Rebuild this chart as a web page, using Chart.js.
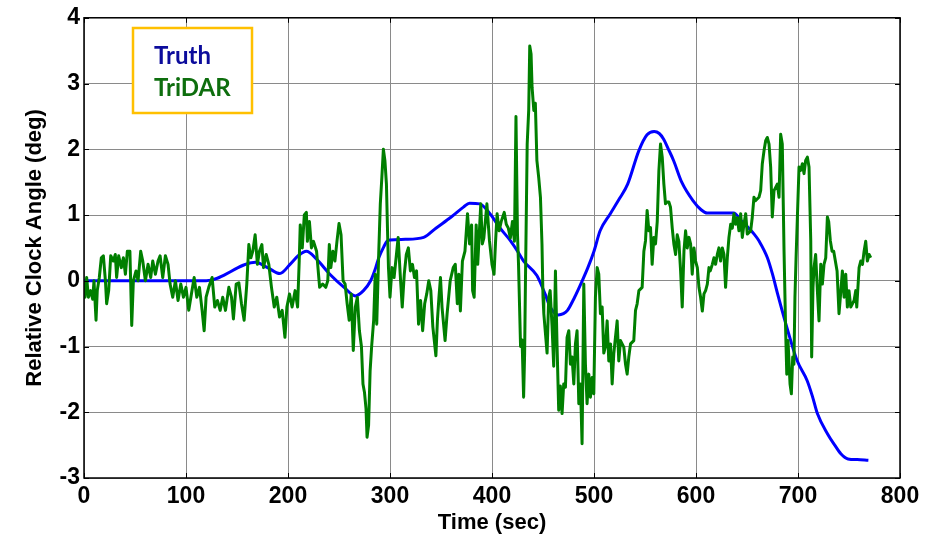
<!DOCTYPE html>
<html>
<head>
<meta charset="utf-8">
<title>Relative Clock Angle</title>
<script src="https://cdn.jsdelivr.net/npm/chart.js@4.4.1/dist/chart.umd.min.js"></script>
<style>
  html, body { margin: 0; padding: 0; background: #fff; }
  canvas { display: block; }
</style>
</head>
<body>
<canvas id="clockChart" width="928" height="539"></canvas>
<script>
// truth clock angle (deg) vs time (sec)
var truthTime = [0, 120, 168, 180, 192, 202, 210, 218, 228, 241, 255, 266, 274, 281, 286, 289, 294, 297, 300, 315,
  333, 345, 360, 372, 378, 388, 398, 408, 418, 425, 431, 444, 452, 457, 465, 470, 474, 481, 487, 494,
  500, 506, 516, 525, 533, 544, 552, 559, 564, 568, 573, 578, 586, 597, 605, 611, 637, 644, 657, 662,
  670, 675, 680, 690, 699, 709, 714, 719, 729, 736, 742, 749, 758, 769];
var truthAngle = [0, 0, 0.28, 0.2, 0.11, 0.25, 0.38, 0.45, 0.33, 0.1, -0.1, -0.23, -0.15, 0, 0.2, 0.35, 0.52, 0.6, 0.62, 0.63,
  0.66, 0.8, 0.97, 1.12, 1.18, 1.17, 1.02, 0.8, 0.61, 0.45, 0.3, 0.08, -0.2, -0.4, -0.52, -0.5, -0.45, -0.25, -0.05, 0.2,
  0.45, 0.76, 1.02, 1.25, 1.47, 1.98, 2.22, 2.27, 2.24, 2.16, 2.0, 1.83, 1.5, 1.22, 1.08, 1.03, 1.03, 0.92, 0.71, 0.6,
  0.35, 0.1, -0.2, -0.76, -1.21, -1.52, -1.75, -2.02, -2.33, -2.5, -2.63, -2.71, -2.72, -2.73];

// TriDAR measured clock angle
var tridarTime = [0, 1, 2.6, 4.3, 6.5, 8.5, 9.8, 11.8, 13, 15, 17, 19, 21, 22.2, 24.2, 26.2, 28.8, 30.7, 32, 34,
  36.6, 38.6, 40.6, 42.5, 45, 46.8, 48.4, 51, 53, 55.6, 57.6, 60.2, 62.8, 65.4, 67.4, 70, 72.6, 74.6, 77.2, 79.8,
  82.4, 84.4, 87, 89.6, 92.2, 94.9, 97.5, 100, 102.7, 105.3, 108, 110.6, 113.2, 115.8, 117.8, 119.7, 122.3, 125.6, 128.2, 130.8,
  133.5, 136, 138.7, 142, 144.6, 146.5, 149.2, 151.8, 154.4, 157, 159.6, 161.6, 163.6, 165.5, 167.8, 170, 172, 174.4, 176, 178.6,
  181.2, 183.8, 186.5, 189, 191.7, 194.3, 197, 198.9, 201.5, 204, 207, 209.4, 211, 212, 214, 216, 218, 219, 221, 223,
  225, 228, 231, 234, 237, 239, 240.5, 242, 244, 246, 248, 250, 252, 254, 256, 258, 260, 262, 264, 266,
  268, 270, 272, 273.5, 275, 276.5, 277.5, 279, 280.5, 282, 284, 285.5, 287, 289, 290.5, 292, 293.5, 295, 296.5, 297.5,
  298.5, 300, 302, 304, 306, 308, 310, 312, 314, 316, 318, 320, 322, 324, 326, 328, 330, 332, 334, 336,
  338, 340, 342, 345, 346.5, 348, 349.5, 351, 354, 356, 359, 362, 364, 366, 367.5, 369, 371, 373.5, 376, 378,
  380, 381, 382.5, 384.5, 386, 389, 390.5, 392, 395, 397.5, 400, 402, 403.5, 405, 407, 409, 412, 414, 416, 418,
  420, 422, 423.5, 425, 426, 428, 429.5, 431, 432, 432.8, 434.5, 436, 437, 438.3, 439.3, 441, 442.5, 444, 445.8, 447.5,
  449, 450, 450.8, 454, 455.6, 457, 458.9, 460.5, 462.2, 463.8, 465.4, 467, 468.7, 470.3, 472, 473.6, 475.3, 476.9, 478.5, 480.2,
  481.8, 483.4, 485.1, 486.7, 488.3, 490, 491.6, 493.2, 494.9, 496.5, 498.2, 499.8, 501.4, 503.1, 504.7, 506.3, 508, 509.6, 511.2, 512.9,
  514.5, 516.2, 517.8, 519.4, 522.7, 524.3, 526, 529.2, 530.9, 532.5, 534.1, 535.8, 539, 540.7, 542.3, 544, 547.2, 548.9, 550.5, 552.1,
  553.8, 555.4, 557, 558.7, 560.3, 562, 563.6, 565.2, 566.9, 568.5, 570.1, 571.8, 573.4, 575, 576.7, 578.3, 580, 581.6, 583.2, 584.9,
  586.5, 588.2, 589.8, 591.4, 593.1, 594.7, 596.3, 598, 599.6, 601.3, 602.9, 604.5, 606.2, 607.8, 609.4, 611.1, 612.7, 614, 616, 617.6,
  619.2, 620.9, 622.5, 624.1, 625.8, 627.4, 629, 630.7, 632.3, 634, 635.6, 637.2, 638.9, 640.5, 642.1, 643.8, 645.4, 647, 648.7, 650.3,
  653.6, 655.2, 656.8, 658.5, 661.7, 663.4, 665, 666.7, 668.3, 669.9, 671.6, 673.2, 674.8, 676.5, 679.7, 681.4, 683, 684.6, 686.3, 687.9,
  689, 690.2, 692.2, 693.5, 694.8, 696, 697, 698.1, 699.4, 701, 702.6, 704.3, 705.9, 707.5, 709.2, 710.8, 712.5, 713.4, 714.7, 715.7,
  717.3, 719, 720.6, 722.3, 723.9, 725.5, 727.2, 728.8, 730.1, 731.7, 733.4, 735, 738.3, 740.2, 741.8, 743.5, 745.2, 746.8, 748.4, 750,
  751.7, 755, 756.6, 757.6, 759.9, 761.5, 763.2, 764.8, 766.4, 768, 769.7, 771.3];
var tridarAngle = [0, -0.25, 0.05, -0.25, -0.15, -0.28, 0, -0.6, -0.15, 0.05, 0.35, 0.38, 0, -0.35, -0.15, 0.38, 0.3, 0.4, 0.05, 0.38,
  0.2, 0.35, 0.1, 0.45, 0.45, -0.68, 0, 0.15, 0, 0.45, 0.3, 0, 0.25, 0.05, 0.3, 0.1, 0.3, 0.38, 0.05, 0.38,
  0.25, -0.05, -0.25, 0, -0.3, -0.05, -0.25, -0.1, -0.45, -0.2, 0.05, -0.25, -0.1, -0.45, -0.76, -0.25, -0.1, 0.05, -0.4, -0.3,
  -0.45, -0.25, -0.45, -0.1, -0.25, -0.58, -0.05, -0.03, -0.35, -0.6, -0.05, 0.55, 0.35, 0.45, 0.7, 0.25, 0.45, 0.55, 0.2, 0.4,
  0.25, -0.1, -0.4, -0.25, -0.55, -0.45, -0.86, -0.4, -0.2, -0.4, -0.15, -0.4, 0.3, 0.85, 0.5, 1.0, 1.04, 0.6, 0.9, 0.5,
  0.6, 0.45, -0.1, -0.05, -0.1, 0, 0.55, 0.2, 0.45, 0.3, 0.6, 0.87, 0.7, 0, -0.05, -0.35, -0.6, -0.2, -1.06, -0.4,
  -0.25, -0.76, -1.0, -1.57, -1.7, -1.95, -2.38, -2.2, -1.37, -1.0, -0.6, 0.1, -0.66, 0.45, 1.17, 1.57, 2.0, 1.83, 1.47, 0.81,
  0.2, -0.25, 0.2, 0.05, 0.35, 0.66, 0.1, -0.4, 0.1, 0.4, 0.5, 0.15, 0.25, 0.05, 0.15, -0.66, -0.3, -0.76, -0.35, -0.2,
  0, -0.15, -0.7, -1.14, -0.6, -0.25, 0.05, -0.4, -0.91, -0.5, 0, 0.2, 0.25, -0.35, 0.1, -0.46, 0.3, 0.45, 1.02, 0.56,
  0.85, -0.15, -0.25, 0.85, 0.25, 1.17, 0.56, 0.65, 1.17, 0.61, 0.25, 0.1, 0.6, 1.02, 0.76, 0.9, 1.04, 0.86, 0.8, 0.65,
  0.9, 0.6, 2.5, 0.7, 0.25, -1.0, -0.9, -1.77, -1.1, 0, 2.08, 2.6, 3.57, 3.45, 2.94, 2.59, 2.7, 1.83, 1.57, 1.27,
  0.56, -0.25, -0.5, -1.1, -0.25, -0.15, -0.7, -1.3, 0.15, -1.0, -1.97, -1.6, -2.02, -1.57, -1.62, -0.86, -0.76, -1.27, -1.16, -1.57,
  -0.96, -0.76, -1.87, -1.57, -2.48, -0.05, -1.27, -1.87, -1.42, -1.77, -1.47, -1.72, -0.25, 0.2, 0.1, -0.5, -0.4, -1.1, -1.0, -0.61,
  -1.22, -0.96, -1.57, -1.11, -0.61, -1.22, -0.91, -1.01, -1.27, -1.42, -1.16, -0.96, -0.91, -0.45, -0.35, -0.15, -0.1, 0.45, 0.61, 1.07,
  0.76, 0.81, 0.25, 0.66, 0.56, 0.9, 1.67, 2.08, 1.88, 1.47, 1.17, 1.2, 1.2, 1.12, 0.8, 0.56, 0.4, 0.7, 0.6, 0.15,
  -0.4, 0.45, 0.76, 0.5, 0.66, 0.56, 0.1, 0.5, 0.3, 0.2, -0.1, -0.25, -0.46, -0.2, -0.15, -0.05, 0.2, 0.15, 0.25, 0.35,
  0.25, 0.4, 0.5, 0.3, 0.5, 0.4, -0.1, 0.35, 0.66, 0.86, 0.8, 1.02, 0.86, 0.96, 0.76, 1.02, 0.66, 0.86, 1.02, 0.71,
  0.76, 0.97, 1.27, 1.22, 1.27, 1.37, 1.78, 1.98, 2.13, 2.18, 2.08, 1.73, 0.97, 1.37, 1.47, 1.27, 2.23, 2.08, 0.46, -0.76,
  -1.42, -0.91, -1.57, -1.72, -1.16, -1.27, -0.25, 0.35, 0.97, 1.73, 1.68, 1.78, 1.63, 1.83, 1.88, 1.73, 0.61, -1.16, -0.1, 0.2,
  0.4, -0.15, -0.61, 0.25, -0.05, 0.25, 0.35, 0.97, 0.9, 0.61, 0.45, 0.45, 0.15, -0.5, -0.2, 0.15, -0.25, 0.1, -0.4, -0.15,
  -0.4, -0.3, -0.15, -0.4, 0.2, 0.3, 0.25, 0.45, 0.6, 0.3, 0.4, 0.35];

var seriesNames = ['Truth', 'TriDAR'];
var lineColors = ['#0000ff', '#007f00'];
var legendTextColors = ['#0c0c9c', '#0e6e0e'];

function toPoints(xs, ys) {
  return xs.map(function (t, i) { return { x: t, y: ys[i] }; });
}

var tickFont = { family: "'Liberation Sans Narrow', 'Liberation Sans', Arial, sans-serif", size: 23, weight: 'bold' };
var titleFont = { family: "'Liberation Sans', Arial, sans-serif", size: 22, weight: 'bold' };

// box, inward tick marks and the text-only legend
var framePlugin = {
  id: 'frame',
  afterDraw: function (chart) {
    var ctx = chart.ctx, a = chart.chartArea;
    var xs = chart.scales.x, ys = chart.scales.y;
    ctx.save();
    ctx.strokeStyle = '#000';
    ctx.lineWidth = 1;
    ctx.beginPath();
    xs.ticks.forEach(function (t) {
      var px = Math.round(xs.getPixelForValue(t.value)) + 0.5;
      ctx.moveTo(px, a.bottom); ctx.lineTo(px, a.bottom - 5);
      ctx.moveTo(px, a.top); ctx.lineTo(px, a.top + 5);
    });
    ys.ticks.forEach(function (t) {
      var py = Math.round(ys.getPixelForValue(t.value)) + 0.5;
      ctx.moveTo(a.left, py); ctx.lineTo(a.left + 5, py);
      ctx.moveTo(a.right, py); ctx.lineTo(a.right - 5, py);
    });
    ctx.stroke();
    ctx.lineWidth = 1.5;
    ctx.strokeRect(a.left, a.top, a.right - a.left, a.bottom - a.top);

    // legend
    ctx.fillStyle = '#fff';
    ctx.fillRect(133, 28, 119, 85);
    ctx.strokeStyle = '#ffc000';
    ctx.lineWidth = 2.5;
    ctx.strokeRect(133, 28, 119, 85);
    ctx.font = "bold 24px Lato, 'Open Sans', sans-serif";
    ctx.textAlign = 'left';
    ctx.textBaseline = 'alphabetic';
    chart.data.datasets.forEach(function (ds, i) {
      ctx.fillStyle = legendTextColors[i];
      ctx.fillText(ds.label, 154, 64 + i * 32);
    });
    ctx.restore();
  }
};

new Chart(document.getElementById('clockChart'), {
  type: 'line',
  data: {
    datasets: [
      {
        label: seriesNames[0],
        data: toPoints(truthTime, truthAngle),
        borderColor: lineColors[0],
        borderWidth: 3,
        pointRadius: 0,
        cubicInterpolationMode: 'monotone',
        order: 2
      },
      {
        label: seriesNames[1],
        data: toPoints(tridarTime, tridarAngle),
        borderColor: lineColors[1],
        borderWidth: 3,
        pointRadius: 0,
        tension: 0,
        borderJoinStyle: 'round',
        order: 1
      }
    ]
  },
  options: {
    responsive: false,
    animation: false,
    layout: { padding: { top: 17, right: 28, left: 0, bottom: 0 } },
    plugins: {
      legend: { display: false },
      tooltip: { enabled: false }
    },
    scales: {
      x: {
        type: 'linear',
        min: 0,
        max: 800,
        ticks: { stepSize: 100, color: '#000', font: tickFont, padding: 5, maxRotation: 0 },
        grid: { color: '#8a8a8a', lineWidth: 1, drawTicks: false },
        border: { display: false },
        title: { display: true, text: 'Time (sec)', color: '#000', font: titleFont, padding: { top: 0, bottom: 3 } },
        afterFit: function (scale) { scale.height = 61; }
      },
      y: {
        min: -3,
        max: 4,
        ticks: { stepSize: 1, color: '#000', font: tickFont, padding: 4 },
        grid: { color: '#8a8a8a', lineWidth: 1, drawTicks: false },
        border: { display: false },
        title: { display: true, text: 'Relative Clock Angle (deg)', color: '#000', font: titleFont, padding: { top: 22, bottom: 0 } },
        afterFit: function (scale) { scale.width = 84; }
      }
    }
  },
  plugins: [framePlugin]
});
</script>
</body>
</html>
